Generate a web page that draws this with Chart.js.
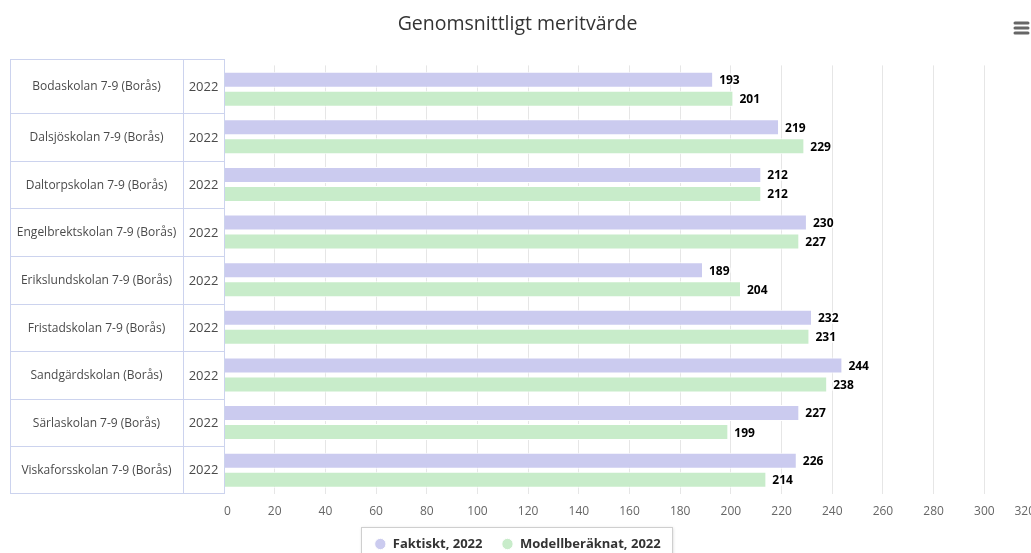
<!DOCTYPE html>
<html>
<head>
<meta charset="utf-8">
<script src="https://cdn.jsdelivr.net/npm/chart.js@4"></script>
<style>
  html, body { margin: 0; padding: 0; background: #fff; overflow: hidden; }
  #wrap { position: relative; width: 1036px; height: 570px; }
</style>
</head>
<body>
<div id="wrap"><canvas id="chart"></canvas></div>
<script>
const schools = [
  'Bodaskolan 7-9 (Borås)',
  'Dalsjöskolan 7-9 (Borås)',
  'Daltorpskolan 7-9 (Borås)',
  'Engelbrektskolan 7-9 (Borås)',
  'Erikslundskolan 7-9 (Borås)',
  'Fristadskolan 7-9 (Borås)',
  'Sandgärdskolan (Borås)',
  'Särlaskolan 7-9 (Borås)',
  'Viskaforsskolan 7-9 (Borås)'
];
const years = ['2022', '2022', '2022', '2022', '2022', '2022', '2022', '2022', '2022'];
const faktiskt = [193, 219, 212, 230, 189, 232, 244, 227, 226];
const modell = [201, 229, 212, 227, 204, 231, 238, 199, 214];
const seriesNames = ['Faktiskt, 2022', 'Modellberäknat, 2022'];
const xMin = 0;
const xMax = 320;
const xStep = 20;

const FONT = "'Open Sans', 'DejaVu Sans', sans-serif";
const TABLE_LINE = '#ccd3ee';

// left-hand table with school name + year columns
const tablePlugin = {
  id: 'tableLabels',
  afterDraw(chart) {
    const { ctx, chartArea, scales } = chart;
    const y = scales.y;
    const left = 10;
    const right = chartArea.left;
    const yearX = right - 41;
    const top = Math.round(chartArea.top) - 6;
    const bottom = Math.round(chartArea.bottom) - 1;

    const edges = [top];
    for (let i = 1; i < schools.length; i++) {
      edges.push(Math.round((y.getPixelForValue(i - 1) + y.getPixelForValue(i)) / 2));
    }
    edges.push(bottom);

    ctx.save();
    ctx.strokeStyle = TABLE_LINE;
    ctx.lineWidth = 1;
    ctx.strokeRect(left + 0.5, top + 0.5, right - left, bottom - top);
    ctx.beginPath();
    ctx.moveTo(yearX + 0.5, top);
    ctx.lineTo(yearX + 0.5, bottom);
    for (let i = 1; i < edges.length - 1; i++) {
      ctx.moveTo(left, edges[i] + 0.5);
      ctx.lineTo(right, edges[i] + 0.5);
    }
    ctx.stroke();

    ctx.fillStyle = '#4a4a4a';
    ctx.textAlign = 'center';
    ctx.textBaseline = 'middle';
    schools.forEach((name, i) => {
      const py = (edges[i] + edges[i + 1]) / 2 + 1;
      ctx.font = '12px ' + FONT;
      ctx.fillText(name, (left + yearX) / 2, py);
      ctx.font = '13px ' + FONT;
      ctx.fillText(years[i], (yearX + right) / 2, py);
    });
    ctx.restore();
  }
};

// bold value labels at bar ends
const valueLabels = {
  id: 'valueLabels',
  afterDatasetsDraw(chart) {
    const { ctx } = chart;
    ctx.save();
    ctx.font = 'bold 12px ' + FONT;
    ctx.textAlign = 'left';
    ctx.textBaseline = 'middle';
    chart.data.datasets.forEach((ds, di) => {
      const meta = chart.getDatasetMeta(di);
      meta.data.forEach((bar, i) => {
        const txt = String(ds.data[i]);
        ctx.lineWidth = 3;
        ctx.strokeStyle = '#fff';
        ctx.strokeText(txt, bar.x + 6, bar.y + 1);
        ctx.fillStyle = '#000';
        ctx.fillText(txt, bar.x + 6, bar.y + 1);
      });
    });
    ctx.restore();
  }
};

// legend frame (behind the items) + menu icon
const legendFrame = {
  id: 'legendFrame',
  beforeDraw(chart) {
    const { ctx, legend } = chart;
    if (!legend || !legend.legendHitBoxes || !legend.legendHitBoxes.length) return;
    const boxes = legend.legendHitBoxes;
    const l = Math.round(Math.min(...boxes.map(b => b.left)) - 13);
    const r = Math.round(Math.max(...boxes.map(b => b.left + b.width)) + 11);
    const t = Math.round(Math.min(...boxes.map(b => b.top)) - 11);
    const b = Math.round(Math.max(...boxes.map(b => b.top + b.height)) + 14);
    ctx.save();
    ctx.shadowColor = 'rgba(0,0,0,0.18)';
    ctx.shadowBlur = 3;
    ctx.shadowOffsetX = 1;
    ctx.shadowOffsetY = 1;
    ctx.fillStyle = '#fff';
    ctx.fillRect(l, t, r - l, b - t);
    ctx.shadowColor = 'transparent';
    ctx.strokeStyle = '#cfcfcf';
    ctx.lineWidth = 1;
    ctx.strokeRect(l + 0.5, t + 0.5, r - l, b - t);
    ctx.restore();
  },
  afterDraw(chart) {
    const { ctx } = chart;
    ctx.save();
    ctx.strokeStyle = '#666';
    ctx.lineWidth = 3;
    ctx.lineCap = 'round';
    ctx.beginPath();
    [23, 28, 33].forEach(py => {
      ctx.moveTo(1015, py);
      ctx.lineTo(1028, py);
    });
    ctx.stroke();
    ctx.restore();
  }
};

const chart = new Chart(document.getElementById('chart'), {
  type: 'bar',
  data: {
    labels: schools,
    datasets: [
      {
        label: seriesNames[0],
        data: faktiskt,
        backgroundColor: '#cbcbef',
        borderColor: '#ffffff',
        borderWidth: 1,
        barPercentage: 0.84,
        categoryPercentage: 0.8
      },
      {
        label: seriesNames[1],
        data: modell,
        backgroundColor: '#c8ecca',
        borderColor: '#ffffff',
        borderWidth: 1,
        barPercentage: 0.84,
        categoryPercentage: 0.8
      }
    ]
  },
  options: {
    indexAxis: 'y',
    responsive: true,
    maintainAspectRatio: false,
    animation: false,
    layout: { autoPadding: false, padding: { left: 0, right: 1, top: 0, bottom: 9.5 } },
    scales: {
      x: {
        min: xMin,
        max: xMax,
        ticks: { stepSize: xStep, color: '#666', font: { size: 12, family: FONT }, padding: 10, align: 'inner' },
        grid: { color: '#e6e6e6', drawTicks: false },
        border: { display: false },
        afterFit(scale) {
          scale.paddingLeft = 0;
          scale.paddingRight = 0;
          scale.height = 24.5;
        }
      },
      y: {
        ticks: { display: false },
        grid: { display: false },
        border: { display: false },
        afterFit(scale) { scale.width = 224; }
      }
    },
    plugins: {
      title: {
        display: true,
        text: 'Genomsnittligt meritvärde',
        color: '#333',
        font: { size: 19.5, family: FONT, weight: 'normal' },
        padding: { top: 13, bottom: 29 }
      },
      legend: {
        position: 'bottom',
        labels: {
          usePointStyle: true,
          pointStyle: 'circle',
          boxWidth: 12,
          boxHeight: 8,
          padding: 19,
          color: '#333',
          font: { size: 13, weight: 'bold', family: FONT }
        }
      },
      tooltip: { enabled: false }
    }
  },
  plugins: [legendFrame, tablePlugin, valueLabels]
});
</script>
</body>
</html>
